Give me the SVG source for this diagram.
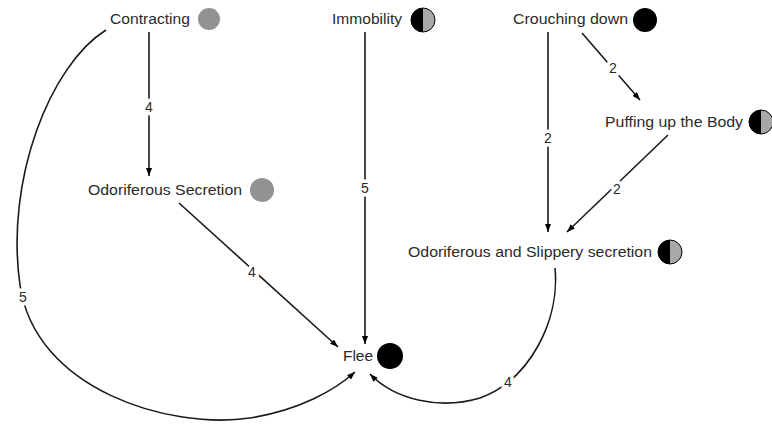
<svg xmlns="http://www.w3.org/2000/svg" width="772" height="427" viewBox="0 0 772 427">
<defs>
<style>
.t{font-family:"Liberation Sans",Arial,sans-serif;font-size:15.5px;fill:#2a2a2a}
.l{font-family:"Liberation Sans",Arial,sans-serif;font-size:14px;fill:#2a2a2a;text-anchor:middle;stroke:#fff;stroke-width:7px;paint-order:stroke;stroke-linejoin:round}
.e{fill:none;stroke:#1a1a1a;stroke-width:1.6}
.g{fill:#929292}
.b{fill:#000}
.h{fill:#a8a8a8;stroke:#000;stroke-width:1}
</style>
<marker id="a" viewBox="0 0 8 6" refX="8" refY="3" markerWidth="8" markerHeight="6" markerUnits="userSpaceOnUse" orient="auto">
<path d="M0,0 L8,3 L0,6 z" fill="#000"/>
</marker>
</defs>
<rect width="772" height="427" fill="#fff"/>
<g id="edges">
<path class="e" d="M149,32 L149,176" marker-end="url(#a)"/>
<text class="l" x="149" y="112">4</text>
<path class="e" d="M106,30 C50,65 5,180 20,285 C35,390 170,430 250,418 C300,410 335,390 355,372" marker-end="url(#a)"/>
<text class="l" x="23" y="302">5</text>
<path class="e" d="M365,32 L365,344" marker-end="url(#a)"/>
<text class="l" x="365" y="193">5</text>
<path class="e" d="M179,203 L338,347" marker-end="url(#a)"/>
<text class="l" x="252" y="277">4</text>
<path class="e" d="M548,32 L548,232" marker-end="url(#a)"/>
<text class="l" x="548" y="143">2</text>
<path class="e" d="M582,33 L640,100" marker-end="url(#a)"/>
<text class="l" x="613" y="73">2</text>
<path class="e" d="M668,135 L567,232" marker-end="url(#a)"/>
<text class="l" x="617" y="194">2</text>
<path class="e" d="M555,268 C560,320 530,380 480,398 C440,410 395,400 370,374" marker-end="url(#a)"/>
<text class="l" x="508" y="387">4</text>
</g>
<g id="contracting">
<text class="t" x="110" y="24" textLength="80" lengthAdjust="spacingAndGlyphs">Contracting</text>
<circle class="g" cx="209" cy="19" r="11"/>
</g>
<g id="immobility">
<text class="t" x="332" y="24" textLength="70" lengthAdjust="spacingAndGlyphs">Immobility</text>
<circle class="h" cx="423" cy="20" r="12"/>
<path class="b" d="M423,8 A12,12 0 0,0 423,32 Z"/>
</g>
<g id="crouching">
<text class="t" x="513" y="24" textLength="115" lengthAdjust="spacingAndGlyphs">Crouching down</text>
<circle class="b" cx="645" cy="20" r="12"/>
</g>
<g id="puffing">
<text class="t" x="605" y="127" textLength="138" lengthAdjust="spacingAndGlyphs">Puffing up the Body</text>
<circle class="h" cx="761" cy="122" r="12"/>
<path class="b" d="M761,110 A12,12 0 0,0 761,134 Z"/>
</g>
<g id="odorsec">
<text class="t" x="88" y="195" textLength="154" lengthAdjust="spacingAndGlyphs">Odoriferous Secretion</text>
<circle class="g" cx="262" cy="190" r="12"/>
</g>
<g id="odorslip">
<text class="t" x="408" y="257" textLength="244" lengthAdjust="spacingAndGlyphs">Odoriferous and Slippery secretion</text>
<circle class="h" cx="670" cy="252" r="12"/>
<path class="b" d="M670,240 A12,12 0 0,0 670,264 Z"/>
</g>
<g id="flee">
<text class="t" x="343" y="361" textLength="30" lengthAdjust="spacingAndGlyphs">Flee</text>
<circle class="b" cx="390" cy="356" r="13"/>
</g>
</svg>
